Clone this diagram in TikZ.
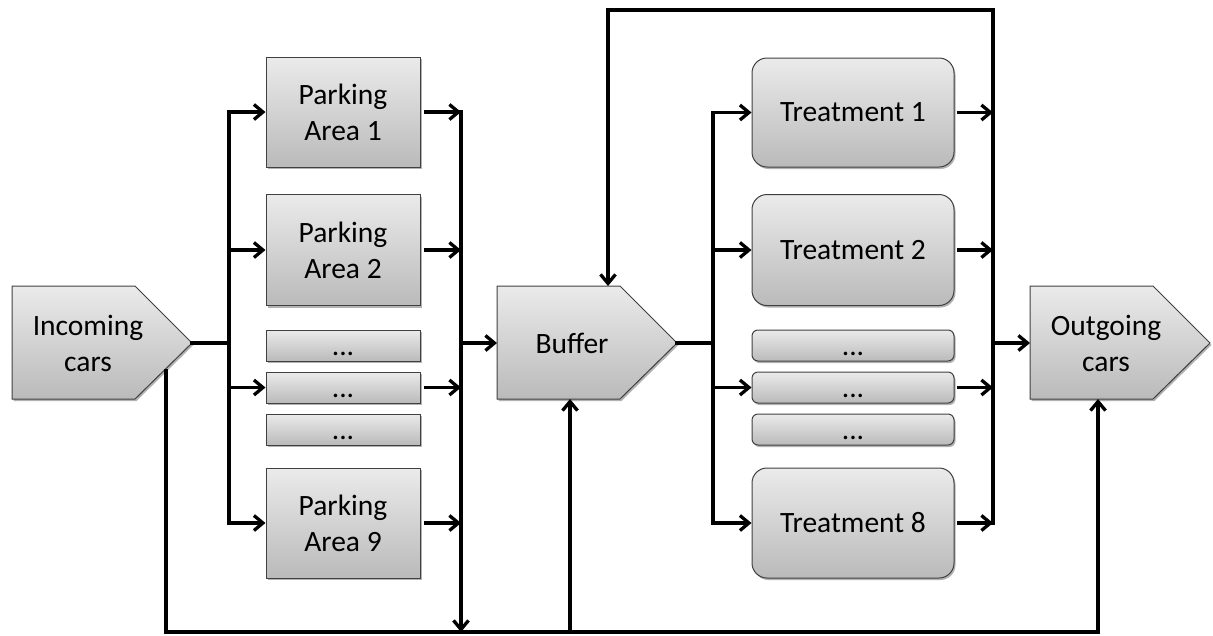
\documentclass[tikz,border=0pt]{standalone}
\usepackage{fontspec}
\setmainfont{Carlito}
\usetikzlibrary{arrows.meta,shadows}
\begin{document}
\begin{tikzpicture}[x=1pt,y=-1pt,
  shadefill/.style={top color=black!8, bottom color=black!27, draw=black!75, line width=1pt,
    drop shadow={shadow xshift=1.5pt,shadow yshift=-2pt,opacity=0.3,fill=black}},
  txt/.style={font=\fontsize{29.5}{36}\selectfont, align=center},
  pbox/.style={shadefill, txt, minimum width=154pt, inner sep=0pt},
  tbox/.style={shadefill, txt, minimum width=202pt, inner sep=0pt, rounded corners=15pt},
  dotsbox/.style={minimum height=31pt, text height=19pt, text depth=0pt},
  sdots/.style={rounded corners=6pt},
  conn/.style={line width=3.3pt, black, line cap=rect},
  arr/.style={line width=3.3pt, black, -{Straight Barb[length=9pt,width=15pt]}}
]
\useasboundingbox (0,0) rectangle (1213,635);

% pentagons
\path[shadefill] (12,286) -- (135,286) -- (192,343) -- (135,399) -- (12,399) -- cycle;
\path[shadefill] (497,286) -- (620,286) -- (677,343) -- (620,399) -- (497,399) -- cycle;
\path[shadefill] (1030,286) -- (1153,286) -- (1210,343) -- (1153,399) -- (1030,399) -- cycle;
\node[txt] (inc) at (88,343) {Incoming\\cars};
\node[txt] (buf) at (572,343) {Buffer};
\node[txt] (out) at (1106,343) {Outgoing\\cars};

\coordinate (inc-tip) at (192,343);
\coordinate (inc-s) at (166,371);
\coordinate (buf-w) at (497,343);
\coordinate (buf-tip) at (677,343);
\coordinate (buf-n) at (608,286);
\coordinate (buf-s) at (570,399);
\coordinate (out-w) at (1030,343);
\coordinate (out-s) at (1098,399);

\coordinate (bus1) at (229,343);
\coordinate (bus2) at (461,343);
\coordinate (bus3) at (713,343);
\coordinate (bus4) at (993,343);
\coordinate (top) at (0,10);
\coordinate (bot) at (0,632);

% parking areas
\node[pbox, minimum height=110pt] (pa1) at (343,112) {Parking\\Area 1};
\node[pbox, minimum height=111pt] (pa2) at (343,250) {Parking\\Area 2};
\node[pbox, dotsbox] (pd1) at (343,345.5) {...};
\node[pbox, dotsbox] (pd2) at (343,387.5) {...};
\node[pbox, dotsbox] (pd3) at (343,429.5) {...};
\node[pbox, minimum height=110pt] (pa9) at (343,523) {Parking\\Area 9};

% treatments
\node[tbox, minimum height=109pt] (t1) at (853,112.5) {Treatment 1};
\node[tbox, minimum height=111pt] (t2) at (853,250) {Treatment 2};
\node[tbox, dotsbox, sdots] (td1) at (853,345.5) {...};
\node[tbox, dotsbox, sdots] (td2) at (853,387.5) {...};
\node[tbox, dotsbox, sdots] (td3) at (853,429.5) {...};
\node[tbox, minimum height=110pt] (t8) at (853,523) {Treatment 8};

% connectors, left part
\draw[conn] (inc-tip) -- (bus1);
\draw[conn] (bus1 |- pa1.west) -- (bus1 |- pa9.west);
\foreach \n in {pa1,pa2,pd2,pa9} {
  \draw[arr] (bus1 |- \n.west) -- (\n.west);
  \draw[arr, shorten <=3pt] (\n.east) -- (bus2 |- \n.east);
}
\draw[conn] (bus2 |- pa1.east) -- (bus2 |- pa9.east);
\draw[arr] (bus2 |- pa9.east) -- (bus2 |- bot);
\draw[arr] (bus2) -- (buf-w);

% connectors, right part
\draw[conn] (buf-tip) -- (bus3);
\draw[conn] (bus3 |- t1.west) -- (bus3 |- t8.west);
\foreach \n in {t1,t2,td2,t8} {
  \draw[arr] (bus3 |- \n.west) -- (\n.west);
  \draw[arr, shorten <=2pt] (\n.east) -- (bus4 |- \n.east);
}
\draw[conn] (bus4 |- t8.east) -- (bus4 |- top) -- (buf-n |- top) -- (buf-n |- 0,200);
\draw[arr] (buf-n |- 0,200) -- (buf-n);
\draw[arr] (bus4) -- (out-w);

% bottom loop
\draw[conn] (inc-s) -- (inc-s |- bot) -- (out-s |- bot);
\draw[arr] (buf-s |- bot) -- (buf-s);
\draw[arr] (out-s |- bot) -- (out-s);
\end{tikzpicture}
\end{document}
